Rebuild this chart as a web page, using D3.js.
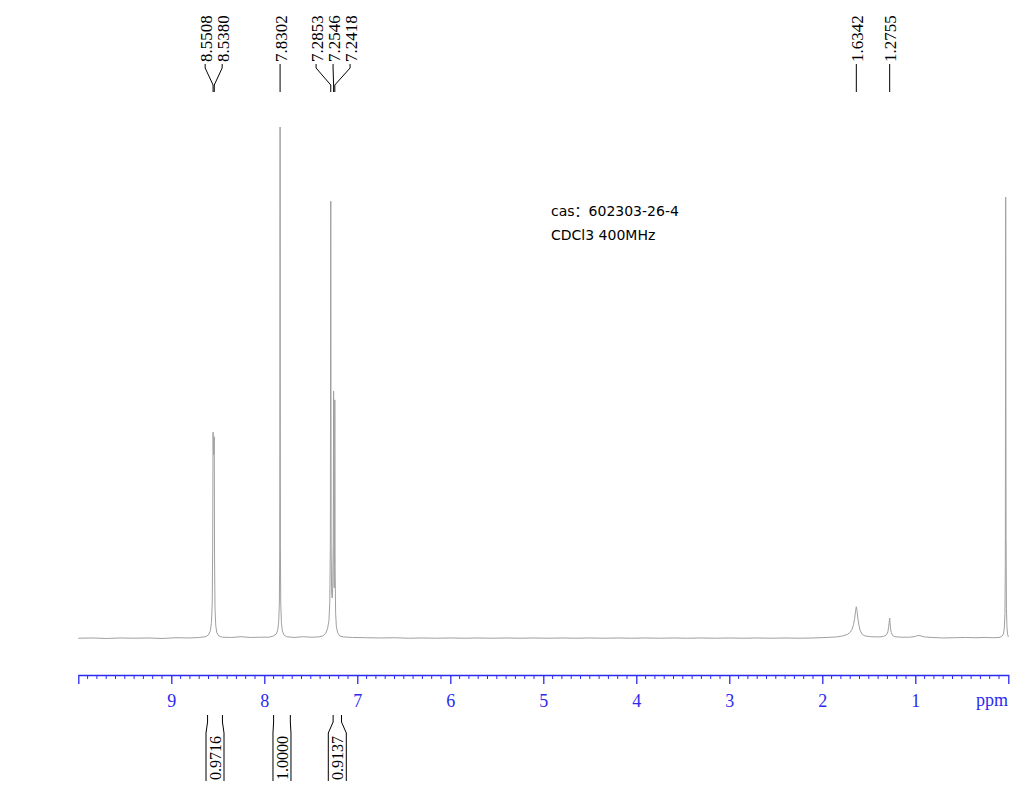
<!DOCTYPE html>
<html>
<head>
<meta charset="utf-8">
<script src="https://cdn.jsdelivr.net/npm/d3@7"></script>
<style>
  html, body { margin: 0; padding: 0; background: #fff; }
  svg { display: block; }
</style>
</head>
<body>
<script>
// ---------- DATA ----------
// spectrum points: [ppm, relative intensity]
const spectrum = [
  [10.00,0.15],[9.85,0.2],[9.70,0.1],[9.55,0.2],[9.40,0.15],[9.25,0.2],[9.10,0.1],[8.95,0.25],[8.80,0.2],[8.70,0.3],
  [8.63,0.45],[8.60,0.8],[8.58,1.6],[8.568,3.2],[8.560,7],[8.555,18],[8.5508,40.4],[8.5475,37],[8.5445,36],
  [8.5415,37],[8.5380,39.5],[8.535,16],[8.530,6],[8.522,2.6],[8.51,1.2],[8.49,0.6],[8.45,0.35],[8.35,0.3],
  [8.25,0.45],[8.15,0.3],[8.05,0.35],[7.95,0.35],[7.90,0.6],[7.87,1.0],[7.855,1.8],[7.845,3.5],[7.838,7],
  [7.834,18],[7.8302,100],[7.827,18],[7.823,7],[7.816,3.2],[7.806,1.6],[7.79,0.8],[7.76,0.45],[7.68,0.3],
  [7.58,0.45],[7.50,0.35],[7.42,0.4],[7.37,0.6],[7.34,1.1],[7.32,2.0],[7.305,3.6],[7.296,7],[7.290,18],
  [7.2853,85.5],[7.281,18],[7.276,9],[7.270,8],[7.264,10],[7.2585,20],[7.2546,48.4],[7.2510,14],[7.2480,10],
  [7.2450,17],[7.2418,46.7],[7.2385,14],[7.233,5],[7.225,2.4],[7.21,1.2],[7.19,0.6],[7.15,0.4],[7.05,0.3],
  [6.90,0.25],[6.75,0.2],[6.60,0.25],[6.45,0.15],[6.30,0.2],[6.15,0.15],[6.00,0.2],[5.85,0.15],[5.70,0.2],
  [5.55,0.15],[5.40,0.2],[5.25,0.15],[5.10,0.2],[4.95,0.15],[4.80,0.2],[4.65,0.15],[4.50,0.2],[4.35,0.15],
  [4.20,0.2],[4.05,0.15],[3.90,0.2],[3.75,0.15],[3.60,0.2],[3.45,0.15],[3.30,0.2],[3.15,0.15],[3.00,0.2],
  [2.85,0.15],[2.70,0.2],[2.55,0.15],[2.40,0.2],[2.25,0.15],[2.10,0.2],[1.95,0.3],[1.85,0.4],[1.78,0.6],
  [1.73,0.9],[1.70,1.3],[1.68,1.9],[1.665,2.8],[1.652,4.0],[1.642,5.5],[1.6342,6.3],[1.627,5.6],[1.618,4.1],
  [1.606,2.7],[1.592,1.6],[1.57,0.9],[1.54,0.6],[1.48,0.45],[1.40,0.4],[1.34,0.5],[1.31,0.8],[1.295,1.4],
  [1.286,2.4],[1.2755,4.1],[1.268,2.3],[1.259,1.3],[1.245,0.7],[1.22,0.45],[1.15,0.35],[1.06,0.35],
  [1.00,0.5],[0.97,0.7],[0.94,0.6],[0.90,0.4],[0.82,0.3],[0.70,0.2],[0.58,0.25],[0.46,0.3],[0.36,0.25],
  [0.26,0.3],[0.16,0.25],[0.10,0.3],[0.07,0.5],[0.052,1.0],[0.043,2.2],[0.036,5],[0.032,14],[0.028,86.3],
  [0.024,20],[0.020,6],[0.015,2.5],[0.008,1.0],[0.000,0.4]
];

// picked peaks shown at the top
const peakPpm    = [8.5508, 8.5380, 7.8302, 7.2853, 7.2546, 7.2418, 1.6342, 1.2755];
const peakLabels = ["8.5508","8.5380","7.8302","7.2853","7.2546","7.2418","1.6342","1.2755"];

// integrals shown under the axis: ranges in ppm and values
const integralFrom   = [8.61, 7.90, 7.26];
const integralTo     = [8.45, 7.72, 7.17];
const integralLabels = ["0.9716", "1.0000", "0.9137"];

// axis
const axisTicks  = [9, 8, 7, 6, 5, 4, 3, 2, 1];
const axisUnit   = "ppm";

// annotation
const noteLines = ["cas：602303-26-4", "CDCl3 400MHz"];

// ---------- CHART ----------
const W = 1026, H = 800;
const svg = d3.select("body").append("svg").attr("width", W).attr("height", H);

const x = d3.scaleLinear().domain([10, 0]).range([78.3, 1008.3]);
const y = d3.scaleLinear().domain([0, 100]).range([639, 127]);

const blue = "#2a2af2";
const serif = "'Liberation Serif', 'Times New Roman', serif";

// spectrum line
svg.append("path")
  .datum(spectrum)
  .attr("fill", "none")
  .attr("stroke", "#a0a0a0")
  .attr("stroke-width", 1)
  .attr("d", d3.line().x(d => x(d[0])).y(d => y(d[1])));

// axis
const axisY = 675;
const axisG = svg.append("g").attr("transform", `translate(0,${axisY})`)
  .call(d3.axisBottom(x).tickValues(axisTicks).tickSize(9).tickSizeOuter(9).tickFormat(d3.format("d")).tickPadding(10));
axisG.select(".domain").attr("stroke", blue).attr("stroke-width", 1.3);
axisG.selectAll(".tick line").attr("stroke", blue).attr("stroke-width", 1.3);
axisG.selectAll(".tick text").attr("fill", blue).attr("font-family", serif).attr("font-size", 18);

// minor ticks every 0.1 ppm
const minor = d3.range(1, 100).map(i => i / 10).filter(v => Math.abs(v - Math.round(v)) > 1e-6);
axisG.selectAll(".minor").data(minor).enter().append("line")
  .attr("class", "minor")
  .attr("x1", d => x(d)).attr("x2", d => x(d))
  .attr("y1", 0).attr("y2", 4)
  .attr("stroke", blue).attr("stroke-width", 1);

svg.append("text")
  .attr("x", 1008).attr("y", 706)
  .attr("text-anchor", "end")
  .attr("fill", blue).attr("font-family", serif).attr("font-size", 18)
  .text(axisUnit);

// peak labels: group close peaks, spread labels around group centre
const peaks = peakPpm.map((p, i) => ({ p, label: peakLabels[i], px: x(p) }));
const groups = [];
peaks.forEach(pk => {
  const g = groups[groups.length - 1];
  if (g && Math.abs(pk.px - g[g.length - 1].px) < 12) g.push(pk); else groups.push([pk]);
});
const spacing = 17;
groups.forEach(g => {
  const cx = d3.mean(g, d => d.px);
  g.forEach((pk, i) => { pk.lx = cx + (i - (g.length - 1) / 2) * spacing; });
});

const peakG = svg.append("g");
peaks.forEach(pk => {
  const path = Math.abs(pk.lx - pk.px) < 0.5
    ? `M${pk.lx},64 V92`
    : `M${pk.lx},64 V68 L${pk.px},85 V92`;
  peakG.append("path").attr("d", path).attr("fill", "none")
    .attr("stroke", "#000").attr("stroke-width", 1);
  peakG.append("text")
    .attr("transform", `translate(${pk.lx + 0.5},62) rotate(-90)`)
    .attr("dy", "0.35em")
    .attr("font-family", serif).attr("font-size", 17).attr("fill", "#000")
    .text(pk.label);
});

// integrals
const intG = svg.append("g");
integralLabels.forEach((lab, i) => {
  const x1 = x(integralFrom[i]), x2 = x(integralTo[i]);
  const cx = (x1 + x2) / 2;
  const half = Math.max((x2 - x1) / 2, 9);
  const l = `M${x1},715 V722 L${cx - half},733 V781`;
  const r = `M${x2},715 V722 L${cx + half},733 V781`;
  intG.append("path").attr("d", l).attr("fill", "none").attr("stroke", "#000").attr("stroke-width", 1);
  intG.append("path").attr("d", r).attr("fill", "none").attr("stroke", "#000").attr("stroke-width", 1);
  intG.append("text")
    .attr("transform", `translate(${cx},780) rotate(-90)`)
    .attr("dy", "0.35em")
    .attr("font-family", serif).attr("font-size", 16).attr("fill", "#000")
    .text(lab);
});

// annotation
svg.selectAll(".note").data(noteLines).enter().append("text")
  .attr("class", "note")
  .attr("x", 551).attr("y", (d, i) => 216 + i * 24)
  .attr("font-family", "'DejaVu Sans', 'Noto Sans CJK SC', sans-serif")
  .attr("font-size", 14).attr("fill", "#000")
  .text(d => d);
</script>
</body>
</html>
